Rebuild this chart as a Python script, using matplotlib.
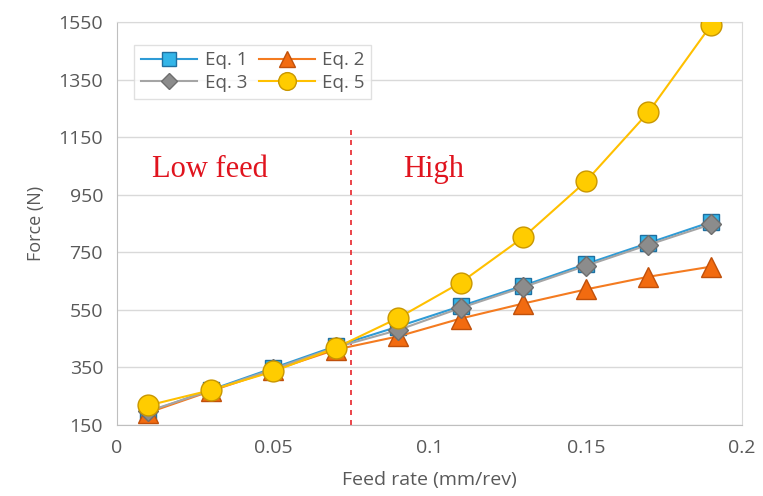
import matplotlib
matplotlib.use('Agg')
import matplotlib.pyplot as plt

feed = [0.01, 0.03, 0.05, 0.07, 0.09, 0.11, 0.13, 0.15, 0.17, 0.19]
eq1 = [195, 272, 348, 424, 492, 563, 634, 709, 782, 855]
eq2 = [193, 268, 340, 412, 458, 520, 572, 621, 665, 700]
eq3 = [198, 270, 344, 420, 480, 557, 629, 703, 776, 847]
eq5 = [218, 271, 336, 418, 522, 645, 802, 996, 1236, 1538]
yticks = [150, 350, 550, 750, 950, 1150, 1350, 1550]
xticks = [0, 0.05, 0.1, 0.15, 0.2]
xtick_labels = ['0', '0.05', '0.1', '0.15', '0.2']

plt.rcParams['font.family'] = ['Open Sans', 'DejaVu Sans']
fig = plt.figure(figsize=(7.63, 4.96), dpi=100)
ax = fig.add_axes([0.1533, 0.1431, 0.8192, 0.8125])

l1, = ax.plot(feed, eq1, color='#2e9bd6', lw=1.5, marker='s', ms=12, mfc='#33b5e8', mec='#1f6fa0', label='Eq. 1', zorder=3)
l2, = ax.plot(feed, eq2, color='#f47b20', lw=1.5, marker='^', ms=14, mfc='#f26b10', mec='#c0500a', label='Eq. 2', zorder=4)
l3, = ax.plot(feed, eq3, color='#a5a5a5', lw=1.5, marker='D', ms=10, mfc='#8c8c8c', mec='#6e6e6e', label='Eq. 3', zorder=5)
l5, = ax.plot(feed, eq5, color='#ffc000', lw=1.5, marker='o', ms=15, mfc='#ffcc00', mec='#c99700', label='Eq. 5', zorder=6)

ax.plot([0.075, 0.075], [150, 1175], color='#e8252b', lw=1.2, ls=(0, (3, 3)), zorder=2)
serif = ['Liberation Serif', 'DejaVu Serif']
ax.text(0.0112, 1036, 'Low feed', color='#e0141e', fontsize=22, family=serif, va='center')
ax.text(0.0915, 1036, 'High', color='#e0141e', fontsize=22, family=serif, va='center')

ax.set_xlim(0, 0.2)
ax.set_ylim(150, 1550)
ax.set_xticks(xticks)
ax.set_xticklabels(xtick_labels)
ax.set_yticks(yticks)
ax.grid(axis='y', color='#d9d9d9', lw=1)
ax.set_axisbelow(True)
for s in ['top', 'right']:
    ax.spines[s].set_color('#d9d9d9')
for s in ['left', 'bottom']:
    ax.spines[s].set_color('#bfbfbf')
ax.tick_params(length=0, labelsize=14, colors='#595959', pad=10)
ax.set_xlabel('Feed rate (mm/rev)', fontsize=14, color='#595959', labelpad=10)
ax.set_ylabel('Force (N)', fontsize=13, color='#595959', labelpad=10)

leg = ax.legend([l1, l3, l2, l5], ['Eq. 1', 'Eq. 3', 'Eq. 2', 'Eq. 5'], ncol=2, loc='upper left',
                bbox_to_anchor=(0.013, 0.967), fontsize=13.5,
                frameon=True, fancybox=False, edgecolor='#d9d9d9', handlelength=3,
                columnspacing=0.6, handletextpad=0.4, borderpad=0.35, labelspacing=0.25, markerscale=0.85)
for t in leg.get_texts():
    t.set_color('#595959')

fig.savefig('out.png', dpi=100)
